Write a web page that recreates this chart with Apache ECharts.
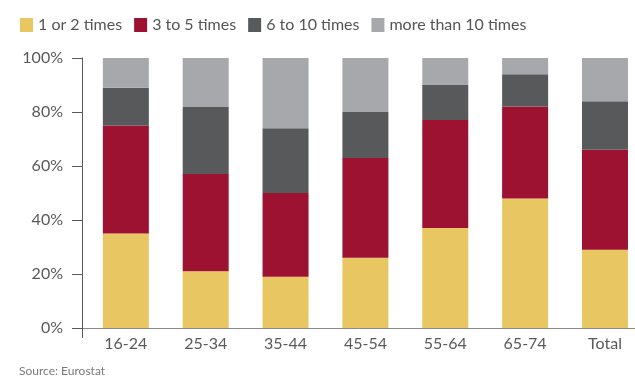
<!DOCTYPE html>
<html>
<head>
<meta charset="utf-8">
<script src="https://cdn.jsdelivr.net/npm/echarts@6/dist/echarts.min.js"></script>
<style>
  html, body { margin: 0; padding: 0; background: #ffffff; }
  #chart { width: 635px; height: 376px; }
</style>
</head>
<body>
<div id="chart"></div>
<script>
// Age groups on the horizontal axis
var categories = ['16-24', '25-34', '35-44', '45-54', '55-64', '65-74', 'Total'];
// Share of people (%) by frequency band
var once_or_twice = [35, 21, 19, 26, 37, 48, 29];
var three_to_five = [40, 36, 31, 37, 40, 34, 37];
var six_to_ten = [14, 25, 24, 17, 13, 12, 18];
var more_than_ten = [11, 18, 26, 20, 10, 6, 16];
var seriesNames = ['1 or 2 times', '3 to 5 times', '6 to 10 times', 'more than 10 times'];
var yTicks = [0, 20, 40, 60, 80, 100];

var colors = ['#E8C763', '#9D1131', '#58595B', '#A7A8AB'];
var font = 'Lato, "Noto Sans", sans-serif';

// x is a value axis so the plot frame can start a little left of the first band
var xMin = -0.549, xMax = 6.376;
var catIdx = categories.map(function (c, i) { return i; });

// rows are [share, position]; the share column comes first so it is the stacked one
function toRows(arr) {
  return arr.map(function (v, i) { return [v, i]; });
}

var values = [once_or_twice, three_to_five, six_to_ten, more_than_ten];
var series = values.map(function (arr, k) {
  return {
    name: seriesNames[k],
    type: 'bar',
    stack: 'share',
    barWidth: 46,
    encode: { x: 1, y: 0 },
    itemStyle: { color: colors[k] },
    emphasis: { disabled: true },
    data: toRows(arr)
  };
});

var chart = echarts.init(document.getElementById('chart'), null, { renderer: 'canvas' });
chart.setOption({
  animation: false,
  textStyle: { fontFamily: font },
  title: {
    text: 'Source: Eurostat',
    left: 14,
    top: 360,
    textStyle: { fontSize: 12, fontWeight: 'normal', color: '#7a7a7a', fontFamily: font }
  },
  legend: {
    left: 15,
    top: 12,
    icon: 'rect',
    itemWidth: 13,
    itemHeight: 14,
    itemGap: 12,
    textStyle: { fontSize: 16, color: '#555555', fontFamily: font },
    data: seriesNames
  },
  grid: { left: 82, right: 0, top: 58, bottom: 48, containLabel: false },
  xAxis: {
    type: 'value',
    min: xMin,
    max: xMax,
    splitLine: { show: false },
    axisLine: { show: true, lineStyle: { color: '#8a8a8a', width: 1 } },
    axisTick: { show: true, length: 10, customValues: [xMin], lineStyle: { color: '#595959' } },
    axisLabel: {
      customValues: catIdx,
      margin: 8,
      fontSize: 16,
      color: '#595959',
      fontFamily: font,
      formatter: function (v) { return categories[Math.round(v)]; }
    }
  },
  yAxis: {
    type: 'value',
    min: yTicks[0],
    max: yTicks[yTicks.length - 1],
    interval: 20,
    splitLine: { show: false },
    axisLine: { show: true, onZero: false, lineStyle: { color: '#595959', width: 1 } },
    axisTick: { show: true, length: 10, lineStyle: { color: '#595959' } },
    axisLabel: {
      margin: 19,
      fontSize: 16,
      color: '#595959',
      fontFamily: font,
      formatter: '{value}%'
    }
  },
  series: series
});
</script>
</body>
</html>
